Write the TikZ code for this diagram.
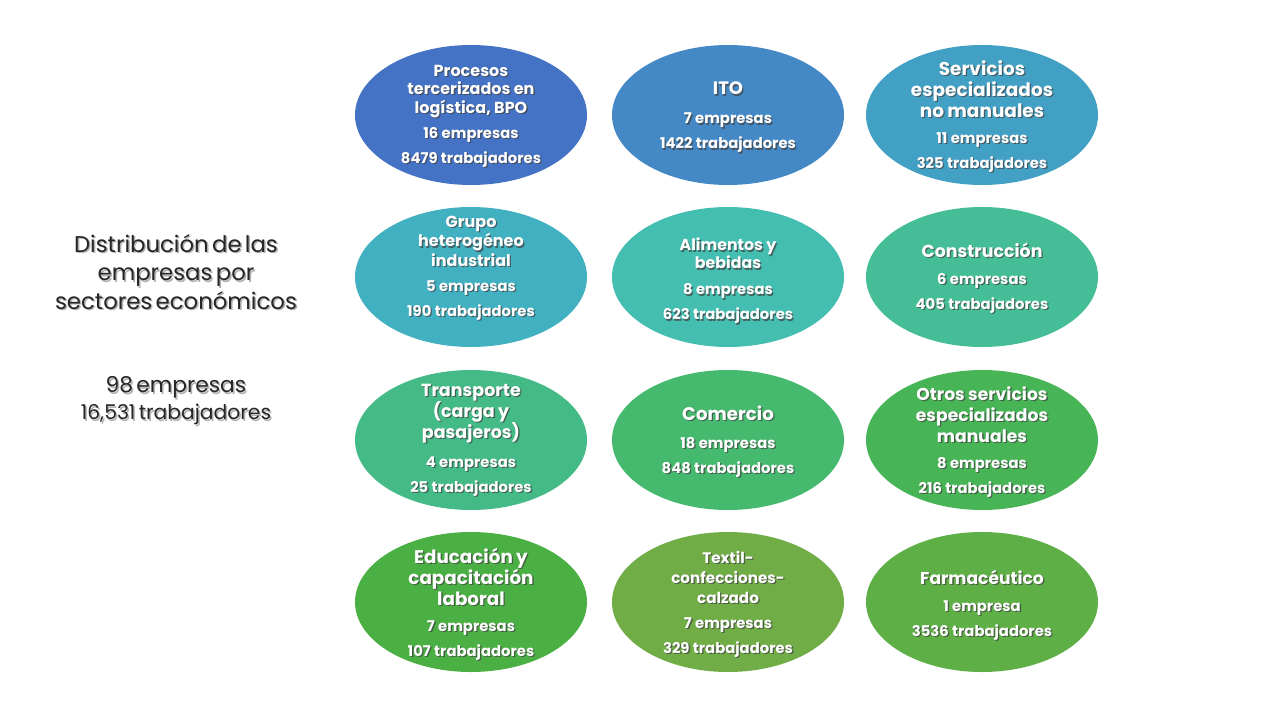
\documentclass[tikz,border=0pt]{standalone}
\usepackage{fontspec}
\setmainfont{Poppins}
\usetikzlibrary{calc,shapes.geometric}
\definecolor{cA}{HTML}{4472C4}
\definecolor{cB}{HTML}{4489C6}
\definecolor{cC}{HTML}{42A0C4}
\definecolor{cD}{HTML}{41B0C1}
\definecolor{cE}{HTML}{43BEB1}
\definecolor{cF}{HTML}{45BE97}
\definecolor{cG}{HTML}{44BB86}
\definecolor{cH}{HTML}{45B96E}
\definecolor{cI}{HTML}{47B456}
\definecolor{cJ}{HTML}{4AB043}
\definecolor{cK}{HTML}{70AD47}
\definecolor{cL}{HTML}{5EAF45}
\definecolor{ttl}{HTML}{262626}
\tikzset{
  sector/.style={ellipse, draw=none, minimum width=232pt, minimum height=140pt, inner sep=0pt},
  intxt/.style={text=white, align=center, text width=220pt, inner sep=0pt, font=\bfseries},
  inshadow/.style={text=black!75, align=center, text width=220pt, inner sep=0pt, font=\bfseries, opacity=0.7},
  lefttxt/.style={text=ttl, align=center, text width=300pt, inner sep=0pt},
  leftshadow/.style={text=black!30, align=center, text width=300pt, inner sep=0pt},
}
% #1 name, #2 position, #3 text shift, #4 colour, #5 title size, #6 title line skip, #7 gap, #8 title, #9 counts
\newcommand\sectorbox[9]{%
  \node[sector, fill=#4] (#1) at #2 {};
  \node[inshadow] (#1s) at ($(#1)+#3+(1.3,1.3)$) {{\fontsize{#5}{#6}\selectfont #8\par}\fontsize{14.8}{#7}\selectfont #9};
  \node[intxt] (#1t) at ($(#1)+#3$) {{\fontsize{#5}{#6}\selectfont #8\par}\fontsize{14.8}{#7}\selectfont #9};
}
\newcommand\cnt[2]{#1\par\baselineskip=25pt #2\par}
\begin{document}
\begin{tikzpicture}[x=1pt,y=-1pt]
\useasboundingbox[fill=white] (0,0) rectangle (1280,720);
% left title
\node[leftshadow] (tls) at (177.5,273.5) {\fontsize{22.8}{28.5}\selectfont Distribución de las\par empresas por\par sectores económicos\par};
\node[lefttxt] (tl) at (176,272) {\fontsize{22.8}{28.5}\selectfont Distribución de las\par empresas por\par sectores económicos\par};
\node[leftshadow] (tts) at (177.5,402.5) {\fontsize{21.8}{27}\selectfont 98 empresas\par\fontsize{20.3}{27}\selectfont 16,531 trabajadores\par};
\node[lefttxt] (tt) at (176,401) {\fontsize{21.8}{27}\selectfont 98 empresas\par\fontsize{20.3}{27}\selectfont 16,531 trabajadores\par};
% row 1
\sectorbox{s1}{(471,115)}{(0,1)}{cA}{16}{18.5}{25}{Procesos\par tercerizados en\par logística, BPO}{\cnt{16 empresas}{8479 trabajadores}}
\sectorbox{s2}{(728,115)}{(0,2.5)}{cB}{18}{21}{29}{ITO}{\cnt{7 empresas}{1422 trabajadores}}
\sectorbox{s3}{(982,115)}{(0,1.5)}{cC}{18.5}{21}{26}{Servicios\par especializados\par no manuales}{\cnt{11 empresas}{325 trabajadores}}
% row 2
\sectorbox{s4}{(471,277)}{(0,-9)}{cD}{16}{19.5}{25}{Grupo\par heterogéneo\par industrial}{\cnt{5 empresas}{190 trabajadores}}
\sectorbox{s5}{(728,277)}{(0,4)}{cE}{15.8}{18}{26}{Alimentos y\par bebidas}{\cnt{8 empresas}{623 trabajadores}}
\sectorbox{s6}{(982,277)}{(0,1)}{cF}{17.4}{21}{27}{Construcción}{\cnt{6 empresas}{405 trabajadores}}
% row 3
\sectorbox{s7}{(471,440)}{(0,0.5)}{cG}{17.5}{21}{29}{Transporte\par (carga y\par pasajeros)}{\cnt{4 empresas}{25 trabajadores}}
\sectorbox{s8}{(728,440)}{(0,1.5)}{cH}{18.2}{21}{28}{Comercio}{\cnt{18 empresas}{848 trabajadores}}
\sectorbox{s9}{(982,440)}{(0,2)}{cI}{17.2}{21}{26}{Otros servicios\par especializados\par manuales}{\cnt{8 empresas}{216 trabajadores}}
% row 4
\sectorbox{s10}{(471,602)}{(0,2.5)}{cJ}{18.3}{21}{26}{Educación y\par capacitación\par laboral}{\cnt{7 empresas}{107 trabajadores}}
\sectorbox{s11}{(728,602)}{(0,2.5)}{cK}{15.2}{20}{25}{Textil-\par confecciones-\par calzado}{\cnt{7 empresas}{329 trabajadores}}
\sectorbox{s12}{(982,602)}{(0,3)}{cL}{17.1}{21}{27}{Farmacéutico}{\cnt{1 empresa}{3536 trabajadores}}
\end{tikzpicture}
\end{document}
